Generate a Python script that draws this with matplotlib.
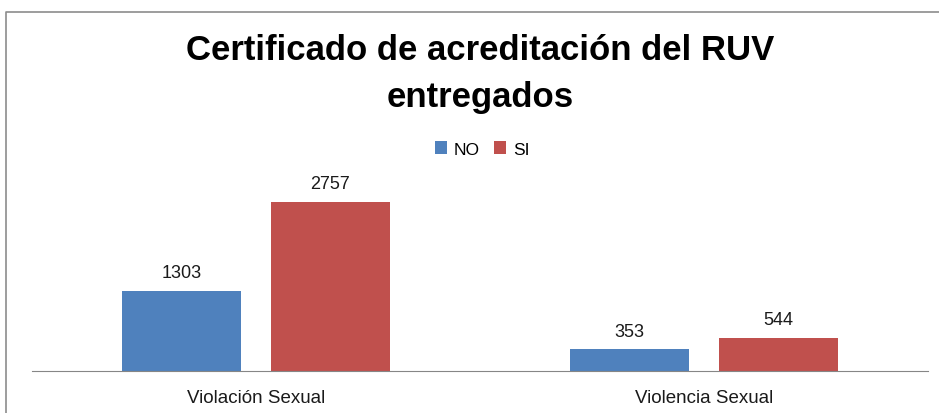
import matplotlib
matplotlib.use("Agg")
import matplotlib.pyplot as plt
import numpy as np
from matplotlib.lines import Line2D

categorias = ["Violación Sexual", "Violencia Sexual"]
series = ["NO", "SI"]
valors_no = [1303, 353]
valors_si = [2757, 544]
colors = ["#4F81BD", "#C0504D"]

plt.rcParams['font.family'] = ['Liberation Sans', 'DejaVu Sans']

W, H = 939, 414
fig = plt.figure(figsize=(W / 100, H / 100), dpi=100)

# marc del gràfic (retallat a dreta i a baix): només vora esquerra i superior
fig.add_artist(Line2D([5.5 / W, 5.5 / W, 1.0], [0.0, 1 - 12.5 / H, 1 - 12.5 / H],
                      transform=fig.transFigure, color="#8c8c8c", linewidth=1.2))

ax = fig.add_axes([32 / W, 42 / H, (928 - 32) / W, 184 / H])
x = np.arange(len(categorias))
amplada = 0.266
desp = 0.166
b1 = ax.bar(x - desp, valors_no, amplada, color=colors[0], label=series[0])
b2 = ax.bar(x + desp, valors_si, amplada, color=colors[1], label=series[1])

for barres in (b1, b2):
    for b in barres:
        ax.annotate(str(int(b.get_height())), (b.get_x() + b.get_width() / 2, b.get_height()),
                    xytext=(0, 7), textcoords="offset points", ha="center", va="bottom",
                    fontsize=13, color="#1a1a1a")

ax.set_xlim(-0.5, 1.5)
ax.set_ylim(0, 3000)
ax.set_yticks([])
ax.set_xticks(x)
ax.set_xticklabels(categorias, fontsize=13.5, color="#1a1a1a")
ax.tick_params(axis="x", length=0, pad=13)
for s in ("left", "right", "top"):
    ax.spines[s].set_visible(False)
ax.spines["bottom"].set_color("#868686")

fig.text(480 / W, 1 - 74 / H, "Certificado de acreditación del RUV\nentregados",
         ha="center", va="center", fontsize=25, fontweight="bold", linespacing=1.55)

fig.legend(handles=[b1, b2], loc="center", bbox_to_anchor=(482 / W, 1 - 150 / H),
           ncol=2, frameon=False, fontsize=12.5, handlelength=0.7, handleheight=0.7,
           columnspacing=0.8, handletextpad=0.4)

fig.savefig("out.png", dpi=100)
